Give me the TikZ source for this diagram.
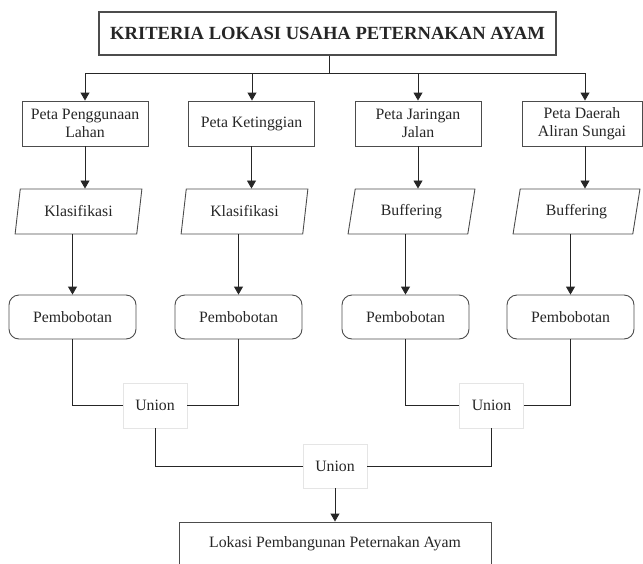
\documentclass[tikz,border=0pt]{standalone}
\usepackage{fontspec}
\setmainfont{Liberation Serif}
\usetikzlibrary{arrows.meta,shapes.geometric}
\begin{document}
\begin{tikzpicture}[x=1pt,y=-1pt,
  every node/.style={font=\fontsize{15.8}{17.5}\selectfont, text=black!85, inner sep=0pt},
  box/.style={draw=black!70, line width=0.9pt, minimum width=126pt, minimum height=45pt, align=center},
  para/.style={draw=black!70, line width=0.9pt, trapezium, trapezium left angle=75, trapezium right angle=105, trapezium stretches=true, minimum width=127pt, minimum height=45pt},
  rbox/.style={draw=black!70, line width=0.9pt, rounded corners=10pt, minimum width=127pt, minimum height=44pt},
  ubox/.style={draw=black!10, line width=0.8pt, fill=white, minimum width=64pt, minimum height=45pt},
  conn/.style={draw=black!85, line width=0.9pt},
  arr/.style={conn, -{Triangle[length=8pt,width=9pt]}}
]
\useasboundingbox (0,0) rectangle (643,563);

\node[box, minimum width=457pt, minimum height=43pt, line width=1.2pt, font=\fontsize{18.6}{20}\selectfont\bfseries] (title) at (327.5,33.5) {KRITERIA LOKASI USAHA PETERNAKAN AYAM};

\coordinate (c1) at (85,73);
\coordinate (c2) at (252,73);
\coordinate (c3) at (418,73);
\coordinate (c4) at (585,73);
\coordinate (ct) at (329,73);

\node[box] (b1) at (85,123.5) {Peta Penggunaan\\Lahan};
\node[box] (b2) at (251.5,123.5) {Peta Ketinggian};
\node[box] (b3) at (418,123.5) {Peta Jaringan\\Jalan};
\node[box, minimum width=120pt] (b4) at (582,123.5) {Peta Daerah\\Aliran Sungai};

\node[para] (p1) at (78.5,211.5) {Klasifikasi};
\node[para] (p2) at (244.5,211.5) {Klasifikasi};
\node[para] (p3) at (411.5,211.5) {Buffering};
\node[para] (p4) at (576.5,211.5) {Buffering};

\node[rbox] (r1) at (72.5,317) {Pembobotan};
\node[rbox] (r2) at (238.5,317) {Pembobotan};
\node[rbox] (r3) at (405.5,317) {Pembobotan};
\node[rbox] (r4) at (570.5,317) {Pembobotan};

\node[ubox] (u1) at (155,405.5) {Union};
\node[ubox] (u2) at (491.5,405.5) {Union};
\node[ubox, minimum height=44pt] (u3) at (335,466) {Union};

\node[box, minimum width=312pt, minimum height=43pt] (out) at (335,543.5) {Lokasi Pembangunan Peternakan Ayam};

% top distribution
\draw[conn] (ct |- title.south) -- (ct);
\draw[conn] (c1) -- (c4);
\draw[arr] (c1) -- (b1.north);
\draw[arr] (c2) -- (c2 |- b2.north);
\draw[arr] (c3) -- (b3.north);
\draw[arr] (c4) -- (c4 |- b4.north);

% boxes to parallelograms
\draw[arr] (b1.south) -- (b1.south |- p1.north);
\draw[arr] (b2.south) -- (b2.south |- p2.north);
\draw[arr] (b3.south) -- (b3.south |- p3.north);
\draw[arr] (c4 |- b4.south) -- (c4 |- p4.north);

% parallelograms to rounded boxes
\draw[arr] (p1.south -| r1.north) -- (r1.north);
\draw[arr] (p2.south -| r2.north) -- (r2.north);
\draw[arr] (p3.south -| r3.north) -- (r3.north);
\draw[arr] (p4.south -| r4.north) -- (r4.north);

% unions
\draw[conn] (r1.south) |- (u1.west);
\draw[conn] (r2.south) |- (u1.east);
\draw[conn] (r3.south) |- (u2.west);
\draw[conn] (r4.south) |- (u2.east);
\draw[conn] (u1.south) |- (u3.west);
\draw[conn] (u2.south) |- (u3.east);
\draw[arr] (u3.south) -- (out.north);
\end{tikzpicture}
\end{document}
